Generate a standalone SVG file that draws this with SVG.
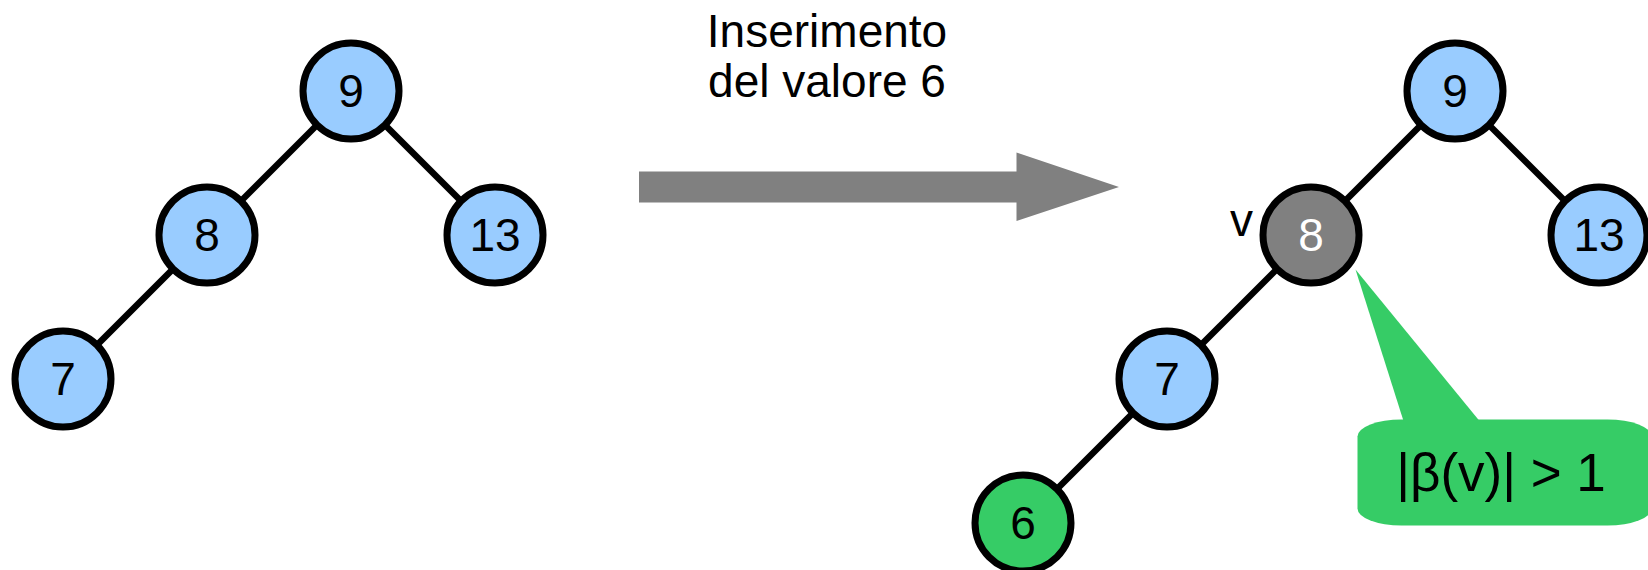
<svg xmlns="http://www.w3.org/2000/svg" width="1648" height="570" viewBox="0 0 1648 570">
  <style>
    text { font-family: "Liberation Sans", Arial, sans-serif; fill: #000; }
    .edge { stroke: #000; stroke-width: 6.5; fill: none; }
    .node { stroke: #000; stroke-width: 7; }
    .blue { fill: #99ccff; }
    .grey { fill: #808080; }
    .green { fill: #36cc66; }
    .key { font-size: 46px; text-anchor: middle; }
    .light { fill: #fff; }
  </style>
  <rect width="1648" height="570" fill="#fff"/>

  <!-- edges of both trees -->
  <g id="connectors">
    <line class="edge" x1="351" y1="91" x2="207" y2="235"/>
    <line class="edge" x1="351" y1="91" x2="495" y2="235"/>
    <line class="edge" x1="207" y1="235" x2="63" y2="379"/>
    <line class="edge" x1="1455" y1="91" x2="1311" y2="235"/>
    <line class="edge" x1="1455" y1="91" x2="1599" y2="235"/>
    <line class="edge" x1="1311" y1="235" x2="1167" y2="379"/>
    <line class="edge" x1="1167" y1="379" x2="1023" y2="523"/>
  </g>

  <!-- tree before insertion -->
  <g id="a9"><circle class="node blue" cx="351" cy="91" r="48"/><text class="key" x="351" y="106.5">9</text></g>
  <g id="a8"><circle class="node blue" cx="207" cy="235" r="48"/><text class="key" x="207" y="250.5">8</text></g>
  <g id="a13"><circle class="node blue" cx="495" cy="235" r="48"/><text class="key" x="495" y="250.5">13</text></g>
  <g id="a7"><circle class="node blue" cx="63" cy="379" r="48"/><text class="key" x="63" y="394.5">7</text></g>

  <!-- insertion arrow and caption -->
  <g id="step">
    <text class="key" x="827" y="46.5">Inserimento</text>
    <text class="key" x="827" y="96.5">del valore 6</text>
    <polygon fill="#808080" points="639,171.5 1016.5,171.5 1016.5,152.5 1119,187 1016.5,221 1016.5,202.5 639,202.5"/>
  </g>

  <!-- tree after insertion -->
  <g id="b9"><circle class="node blue" cx="1455" cy="91" r="48"/><text class="key" x="1455" y="106.5">9</text></g>
  <g id="b8">
    <circle class="node grey" cx="1311" cy="235" r="48"/>
    <text class="key light" x="1311" y="250.5">8</text>
    <text x="1230" y="236" font-size="46">v</text>
  </g>
  <g id="b13"><circle class="node blue" cx="1599" cy="235" r="48"/><text class="key" x="1599" y="250.5">13</text></g>
  <g id="b7"><circle class="node blue" cx="1167" cy="379" r="48"/><text class="key" x="1167" y="394.5">7</text></g>
  <g id="b6"><circle class="node green" cx="1023" cy="523" r="48"/><text class="key" x="1023" y="538.5">6</text></g>

  <!-- balance callout -->
  <g id="callout">
    <rect class="green" x="1357.5" y="419.5" width="294" height="106" rx="44" ry="17"/>
    <polygon class="green" points="1355.5,269.5 1403.5,421 1479.5,421"/>
    <text x="1501" y="491" font-size="53" text-anchor="middle">|β(v)| &gt; 1</text>
  </g>
</svg>
